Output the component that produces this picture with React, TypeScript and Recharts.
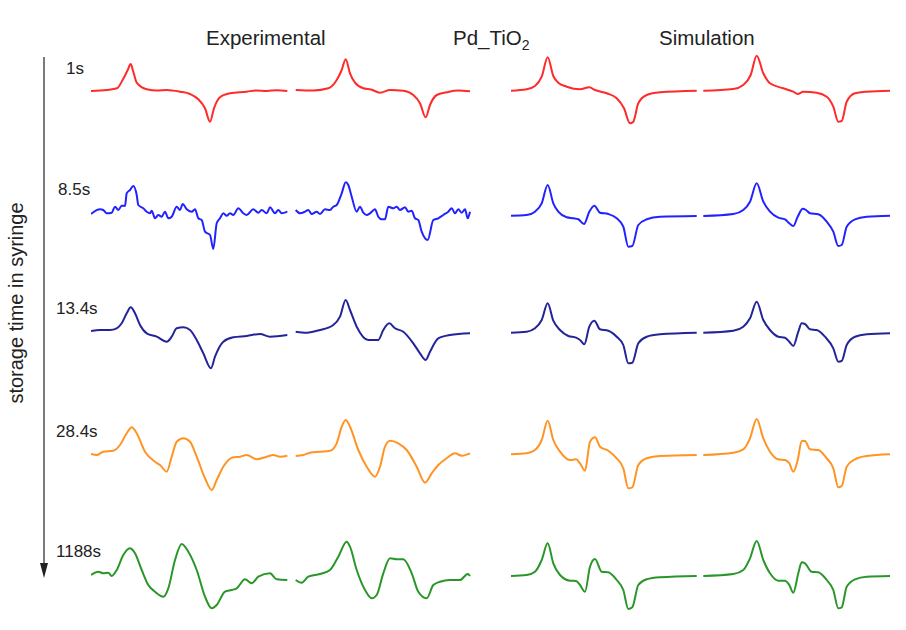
import React from "react";
import { LineChart, Line, XAxis, YAxis } from "recharts";

type Pt = { x: number; y: number };
const toPts = (arr: number[][]): Pt[] => arr.map(([x, y]) => ({ x, y }));

// storage times (row labels)
const times = ["1s", "8.5s", "13.4s", "28.4s", "1188s"];
const colors = ["#ff2a2a", "#2222ff", "#24249a", "#ff9424", "#2a962a"];
const baselines = [91, 212, 331, 454, 574];

// field axis in arbitrary units (0..800), signal amplitude around 0
// row 1 : 1s
const exp1a = [[0,0],[16,1],[26,2.7],[32,11.7],[36.7,21],[39.7,27],[42.3,19.3],[45.7,8.3],[55.7,1.7],[66,0.5],[75.7,1],[89,-0.7],[99,-3],[107.3,-8.3],[114,-17.3],[119,-30.7],[123,-17.3],[129,-6.3],[139,-2.3],[155.7,-0.7],[165,0.6],[175.7,0],[186,0.8],[196.3,0]];
const exp1b = [[204.7,1],[222.3,0.5],[237.3,2.7],[245.7,11],[250.7,21],[254.7,31.7],[259,17.7],[264,8.3],[272.3,2.7],[280,1.5],[289,-1.7],[299,1],[312.3,0.3],[322.3,-4],[329,-12.3],[334.7,-26.3],[339,-14],[345.7,-4],[355.7,-1.3],[367,0.5],[379,-0.3]];
const sim1a = [[420,0.3],[435.7,1.7],[444,5],[450.7,14.3],[456.7,33.7],[462.3,15],[467.3,8.3],[475.7,4.3],[489,1.7],[498.3,3.7],[504,1],[515.7,-2.3],[525.7,-7.3],[533,-17.3],[539,-32.3],[542.3,-30.7],[547.3,-12.3],[555.7,-4],[569,-1.3],[605.7,0.3]];
const sim1b = [[612.3,0.3],[642.3,2],[652.3,6],[659.7,16],[665.7,35.3],[672.3,17.7],[679,7.7],[692.3,2.7],[702.3,-0.7],[706.7,-3],[712.3,-0.7],[725.7,-1.7],[735.7,-5.7],[742.3,-15.7],[747.3,-30.7],[750.7,-30],[755.7,-10.7],[764,-2.3],[775.7,-0.7],[799,0.3]];

// row 2 : 8.5s
const exp2a = [[0,-2],[9,2.7],[12.3,2],[15.7,-1.3],[20.7,-0.7],[24,5.3],[27.3,2],[30.7,6.3],[34,6],[35.7,18.7],[39,22],[42.3,26],[45.7,17],[47.3,7],[52.3,3.7],[55.7,0.3],[59,-1.3],[60.7,1.3],[64,-6.3],[67.3,-3],[70.7,-4.7],[74,0.3],[77.3,-6.3],[80.7,-4.7],[85.7,5.3],[89,2],[91.7,8],[95.7,2.7],[100.7,0.3],[104,2.7],[107.3,-6.3],[110.7,-8],[114,-19.7],[119,-23],[122.3,-37],[125.7,-11.3],[129,-6.3],[132.3,-1.3],[135.7,-3.7],[139,-1.3],[142.3,-3],[147.3,3.7],[152.3,-1.3],[155.7,-3],[162.3,2.7],[167.3,-0.7],[170.7,2],[175.7,-1.3],[179,4.7],[184,-1.3],[187.3,2],[190.7,-1.3],[196.3,0.3]];
const exp2b = [[204.7,2],[209,-1.3],[214,0.3],[217.3,2],[220.7,-2],[225.7,0.3],[229,-2],[234,2.7],[239,2],[242.3,5.3],[245.7,7],[250.7,18.7],[254.7,29.7],[257.3,27],[260.7,15.3],[265.7,0.3],[269,5.3],[272.3,-0.7],[275.7,-3],[279,-1.3],[284,2.7],[287.3,-4.7],[290.7,-7.3],[294,-7.3],[297.3,5.3],[302.3,3.7],[305.7,5.3],[309,2],[314,4.7],[317.3,0.3],[320.7,1.3],[324,-6.3],[327.3,-8],[330.7,-19.7],[336.7,-28],[342.3,-8],[347.3,-6.3],[352.3,-3],[357.3,0.3],[360.7,3.7],[364,-1.3],[367.3,2.7],[370.7,-0.7],[374,2.7],[376.7,-6.3],[379,0.3]];
const sim2a = [[420,-3.7],[435.7,-3],[444,0.3],[450.7,8.7],[456.7,27],[462.3,8.7],[467.3,0.3],[475.7,-5.3],[482.3,-6.3],[487.3,-7.3],[493,-12],[498.3,0.3],[503.3,6.3],[509,-0.7],[517.3,-2],[525.7,-6.3],[532.3,-14.7],[537.3,-34.7],[541.3,-34],[547.3,-13],[555.7,-7.3],[569,-4.7],[605.7,-4]];
const sim2b = [[612.3,-4],[642.3,-2],[652.3,2],[659,10.3],[665.7,28.7],[672.3,10.3],[679,0.3],[687.3,-5.7],[694,-7.3],[698.3,-11.3],[702.3,-14],[706.7,-4.7],[711.7,3.3],[715,2],[719,-1.3],[727.3,-2.3],[735.7,-9.7],[742.3,-19.7],[747.3,-34],[750.7,-33],[755.7,-14.7],[764,-7.3],[775.7,-4.7],[799,-3.7]];

// row 3 : 13.4s
const exp3a = [[0,0],[9,1],[19,1],[25.7,2.7],[30.7,7.7],[35.7,17.7],[39.7,23.7],[44,17.7],[49,6],[55.7,-2.3],[65.7,-5.7],[75.7,-10.7],[80.7,-5.7],[85.7,2.7],[92.3,3.7],[99,1],[105.7,-9],[112.3,-22.3],[120,-37.3],[124,-25.7],[132.3,-10.7],[142.3,-6.3],[155.7,-5],[169,-3],[179,-5.7],[196.3,-4]];
const exp3b = [[204.7,-0.7],[215.7,-1.7],[229,1],[242.3,6],[249,14.3],[254.7,31],[259,21],[265.7,4.3],[277.3,-9],[287.3,-9],[292.3,1],[298.3,7.7],[304,2.7],[312.3,-0.7],[322.3,-12.3],[329,-22.3],[334.7,-29],[339,-20.7],[347.3,-7.3],[359,-4],[379,-2.3]];
const sim3a = [[420,-1.7],[435.7,-0.7],[444,2.7],[450.7,11],[456.7,27.7],[462.3,10.3],[469,1],[477.3,-5],[485,-6.7],[489,-9],[493.3,-13.3],[498.3,4.3],[503.3,10.3],[509,1.7],[517.3,0.3],[525.7,-5.7],[532.3,-14],[537.3,-32.3],[541.3,-31.7],[547.3,-12.3],[555.7,-5.7],[569,-3.3],[605.7,-1.7]];
const sim3b = [[612.3,-1.7],[642.3,0.3],[652.3,4.3],[659,12.7],[665.7,29.3],[672.3,11],[679,1],[687.3,-5.7],[694,-6.7],[698.3,-10.7],[702.3,-15],[707.3,-0.7],[710.7,7.7],[714,7],[719,1.7],[725.7,1],[734,-5.7],[742.3,-17.3],[747.3,-30.7],[750.7,-30],[755.7,-14],[764,-5.7],[775.7,-3.3],[799,-2.3]];

// row 4 : 28.4s
const exp4a = [[0,0],[5.7,-1],[12.3,2.3],[22.3,3.3],[29,9],[35.7,20.7],[40.7,26.7],[45.7,20.7],[54,2.3],[64,-7.7],[69,-11],[75.7,-17.7],[80.7,-2.7],[85.7,12.3],[92.3,15.7],[99,12.3],[105.7,-2.7],[114,-24.3],[120.7,-36],[125.7,-26],[132.3,-12.7],[142.3,-3.3],[149,-2.7],[155.7,-1],[165.7,-5.3],[175.7,-2.7],[182.3,-1],[189,-2.7],[196.3,-1.7]];
const exp4b = [[204.7,-2],[212.3,-1],[219,1.3],[229,2.3],[239,3.3],[245.7,10.7],[250.7,27.3],[254.7,34],[259,27.3],[267.3,4],[275.7,-12.7],[284,-22.7],[289,-12.7],[294,7.3],[299,13.3],[307.3,10.7],[315.7,4],[325.7,-12.7],[334,-28.7],[340.7,-19.3],[347.3,-11],[355.7,-4.3],[364,0.7],[370.7,-1.7],[379,0.7]];
const sim4a = [[420,-0.3],[435.7,0.7],[444,4],[450.7,14],[456.7,33.3],[462.3,14],[469,2.3],[479,-6],[485,-5.3],[489,-9.3],[494,-16.7],[499,12.3],[504,16.7],[509,7.3],[517.3,3.3],[525.7,-4.3],[532.3,-14.3],[537.3,-34.3],[541.3,-33.3],[547.3,-11],[555.7,-4.3],[569,-2],[605.7,-1]];
const sim4b = [[612.3,-1],[642.3,1.3],[652.3,4.7],[659,15.7],[665.7,35],[672.3,15.7],[679,2.3],[687.3,-5.3],[694,-6],[698.3,-9.3],[702.3,-17.7],[706.7,-6],[710.7,13],[714,13],[719,4.7],[727.3,4],[735.7,-4.3],[742.3,-14.3],[747.3,-33.3],[750.7,-32],[755.7,-12.7],[764,-5.3],[775.7,-2],[799,-0.3]];

// row 5 : 1188s
const exp5a = [[0,-1],[7.3,2.3],[12.3,0.7],[17.3,1.3],[20.7,-2],[25.7,4],[32.3,19],[39,25.7],[44,20.7],[50.7,4],[57.3,-11],[64,-17.7],[72.3,-22.7],[77.3,-14.3],[84,14],[90.7,30],[97.3,22.3],[105.7,4],[114,-22.7],[120.7,-34.3],[125.7,-31],[134,-17.7],[140.7,-16],[145.7,-14.3],[154,-5.3],[160.7,-9.3],[167.3,-2.7],[179,0.7],[185.7,-5.3],[196.3,-6]];
const exp5b = [[204.7,-6],[210.7,-8.7],[217.3,-2.7],[229,0],[239,4],[247.3,17.3],[255.7,32.3],[259,27.3],[265.7,4],[274,-16],[280.7,-24.3],[285.7,-21],[292.3,0.7],[299,15.7],[305.7,14.7],[312.3,14.7],[320.7,0.7],[327.3,-17.7],[335.7,-24.3],[342.3,-11],[349,-7.7],[359,-6],[369,-6],[376.7,0],[379,-2]];
const sim5a = [[420,-2],[435.7,-1],[444,2.3],[450.7,14],[456.7,30.7],[462.3,10.7],[469,-1],[479,-6.7],[485,-7],[489,-11],[494,-17.7],[499,7.3],[504,15],[510.7,2.3],[517.3,1.7],[525.7,-6],[532.3,-16],[537.3,-35],[541.3,-33.3],[547.3,-11],[555.7,-5.3],[569,-3.3],[605.7,-2]];
const sim5b = [[612.3,-2],[642.3,0],[652.3,4],[659,15.7],[665.7,33],[672.3,14],[679,0.7],[687.3,-6.7],[694,-6.7],[698.3,-11],[702.3,-18.7],[707.3,0.7],[710.7,11.7],[714,10.7],[720.7,2.3],[727.3,1.7],[735.7,-6],[742.3,-16],[747.3,-34.3],[750.7,-33.3],[755.7,-12.7],[764,-5.3],[775.7,-2.7],[799,-2]];

const rows = [
  [exp1a, exp1b, sim1a, sim1b],
  [exp2a, exp2b, sim2a, sim2b],
  [exp3a, exp3b, sim3a, sim3b],
  [exp4a, exp4b, sim4a, sim4b],
  [exp5a, exp5b, sim5a, sim5b],
];

const FONT = '"Liberation Sans", Arial, sans-serif';

function SpectrumRow({ series, color, top }: { series: number[][][]; color: string; top: number }) {
  return (
    <div style={{ position: "absolute", left: 91, top, width: 800, height: 100 }}>
      <LineChart width={800} height={100} margin={{ top: 0, right: 0, bottom: 0, left: 0 }}>
        <XAxis dataKey="x" type="number" domain={[0, 800]} hide allowDataOverflow />
        <YAxis type="number" domain={[-50, 50]} hide allowDataOverflow />
        {series.map((s, i) => (
          <Line
            key={i}
            data={toPts(s)}
            dataKey="y"
            type="monotone"
            stroke={color}
            strokeWidth={2}
            dot={false}
            isAnimationActive={false}
          />
        ))}
      </LineChart>
    </div>
  );
}

export default function App() {
  return (
    <div
      style={{
        position: "absolute",
        left: 0,
        top: 0,
        width: 906,
        height: 630,
        background: "#fff",
        fontFamily: FONT,
        overflow: "hidden",
      }}
    >
      {rows.map((s, i) => (
        <SpectrumRow key={i} series={s} color={colors[i]} top={baselines[i] - 50} />
      ))}
      <svg width={906} height={630} style={{ position: "absolute", left: 0, top: 0 }}>
        <g fontFamily={FONT} fill="#222">
          <text x={206} y={45} fontSize={20.5}>Experimental</text>
          <text x={453} y={45} fontSize={20.5}>
            Pd_TiO<tspan fontSize={14} dy={5}>2</tspan>
          </text>
          <text x={659} y={45} fontSize={20.5}>Simulation</text>
          {times.map((t, i) => (
            <text key={t} x={i === 0 ? 66 : i === 1 ? 58 : 56} y={baselines[i] - 17} fontSize={17}>
              {t}
            </text>
          ))}
          <text
            x={0}
            y={0}
            fontSize={20}
            textAnchor="middle"
            transform="translate(23 303) rotate(-90)"
          >
            storage time in syringe
          </text>
        </g>
        <line x1={44} y1={57} x2={44} y2={566} stroke="#222" strokeWidth={1.2} />
        <polygon points="40,563 48,563 44,578" fill="#222" />
      </svg>
    </div>
  );
}
